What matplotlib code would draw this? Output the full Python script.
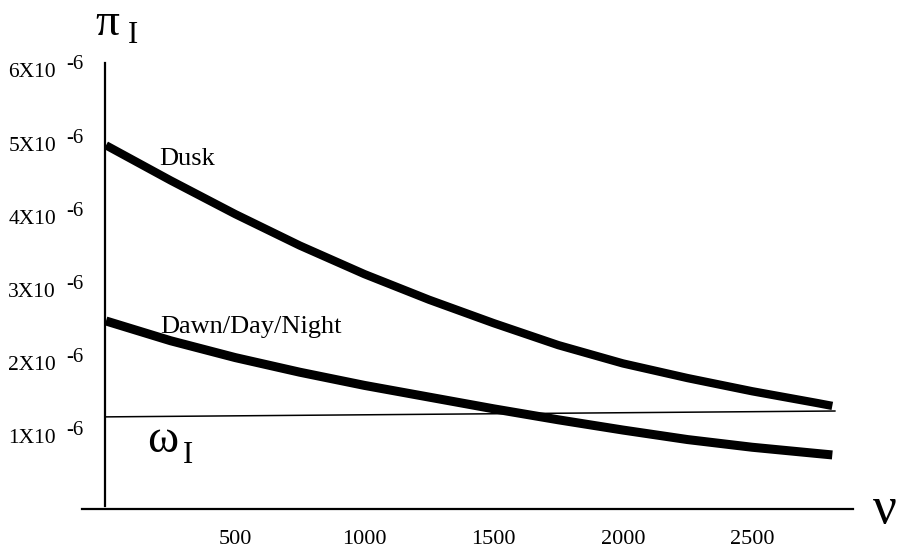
import matplotlib
matplotlib.use("Agg")
import matplotlib.pyplot as plt

plt.rcParams['font.family'] = ['Liberation Serif', 'DejaVu Serif']

# values (x: nu, y: in units of 1e-6)
nu = [0, 250, 500, 750, 1000, 1250, 1500, 1750, 2000, 2250, 2500, 2750, 2810]
dusk = [5.01, 4.53, 4.07, 3.64, 3.25, 2.90, 2.58, 2.28, 2.03, 1.83, 1.65, 1.49, 1.45]
dawn = [2.61, 2.34, 2.11, 1.91, 1.73, 1.57, 1.41, 1.26, 1.12, 0.99, 0.885, 0.80, 0.78]
omega_x = [0, 2820]
omega_y = [1.30, 1.38]

x_ticks = [500, 1000, 1500, 2000, 2500]
y_ticks = [1, 2, 3, 4, 5, 6]

fig = plt.figure(figsize=(8.99, 5.52), dpi=100)
ax = fig.add_axes([0, 0, 1, 1])
ax.set_xlim(-410, 3068)
ax.set_ylim(-0.546, 6.995)

ax.plot(nu, dusk, color='black', lw=6.0, solid_capstyle='butt')
ax.plot(nu, dawn, color='black', lw=6.5, solid_capstyle='butt')
ax.plot(omega_x, omega_y, color='black', lw=1.1)

for s in ['top', 'right']:
    ax.spines[s].set_visible(False)
ax.spines['left'].set_position(('data', -4))
ax.spines['left'].set_bounds(0.08, 6.14)
ax.spines['bottom'].set_position(('data', 0.04))
ax.spines['bottom'].set_bounds(-93, 2890)
for s in ['left', 'bottom']:
    ax.spines[s].set_linewidth(1.6)

ax.set_xticks(x_ticks)
ax.set_xticklabels([str(t) for t in x_ticks], fontsize=16)
ax.tick_params(axis='x', length=0, pad=15)
ax.set_yticks([])

for v in y_ticks:
    ax.annotate(f"{v}X10", xy=(-4, v), xytext=(-49, 0), textcoords='offset pixels',
                ha='right', va='center', fontsize=15.5)
    ax.annotate("-6", xy=(-4, v), xytext=(-39, 8), textcoords='offset pixels',
                ha='left', va='center', fontsize=15)

ax.text(205, 4.74, "Dusk", fontsize=19, ha='left', va='baseline')
ax.text(209, 2.45, "Dawn/Day/Night", fontsize=19, ha='left', va='baseline')

# axis symbols
ax.annotate("π", xy=(-4, 6.14), xytext=(-10, 28), textcoords='offset pixels',
            fontsize=34, ha='left', va='baseline')
ax.annotate("I", xy=(-4, 6.14), xytext=(23, 20), textcoords='offset pixels',
            fontsize=22, ha='left', va='baseline')
ax.annotate("ω", xy=(-4, 0.04), xytext=(42, 57), textcoords='offset pixels',
            fontsize=34, ha='left', va='baseline')
ax.annotate("I", xy=(-4, 0.04), xytext=(78, 46), textcoords='offset pixels',
            fontsize=22, ha='left', va='baseline')
ax.annotate("ν", xy=(2890, 0.04), xytext=(20, -14), textcoords='offset pixels',
            fontsize=38, ha='left', va='baseline')

fig.savefig("out.png", dpi=100)
